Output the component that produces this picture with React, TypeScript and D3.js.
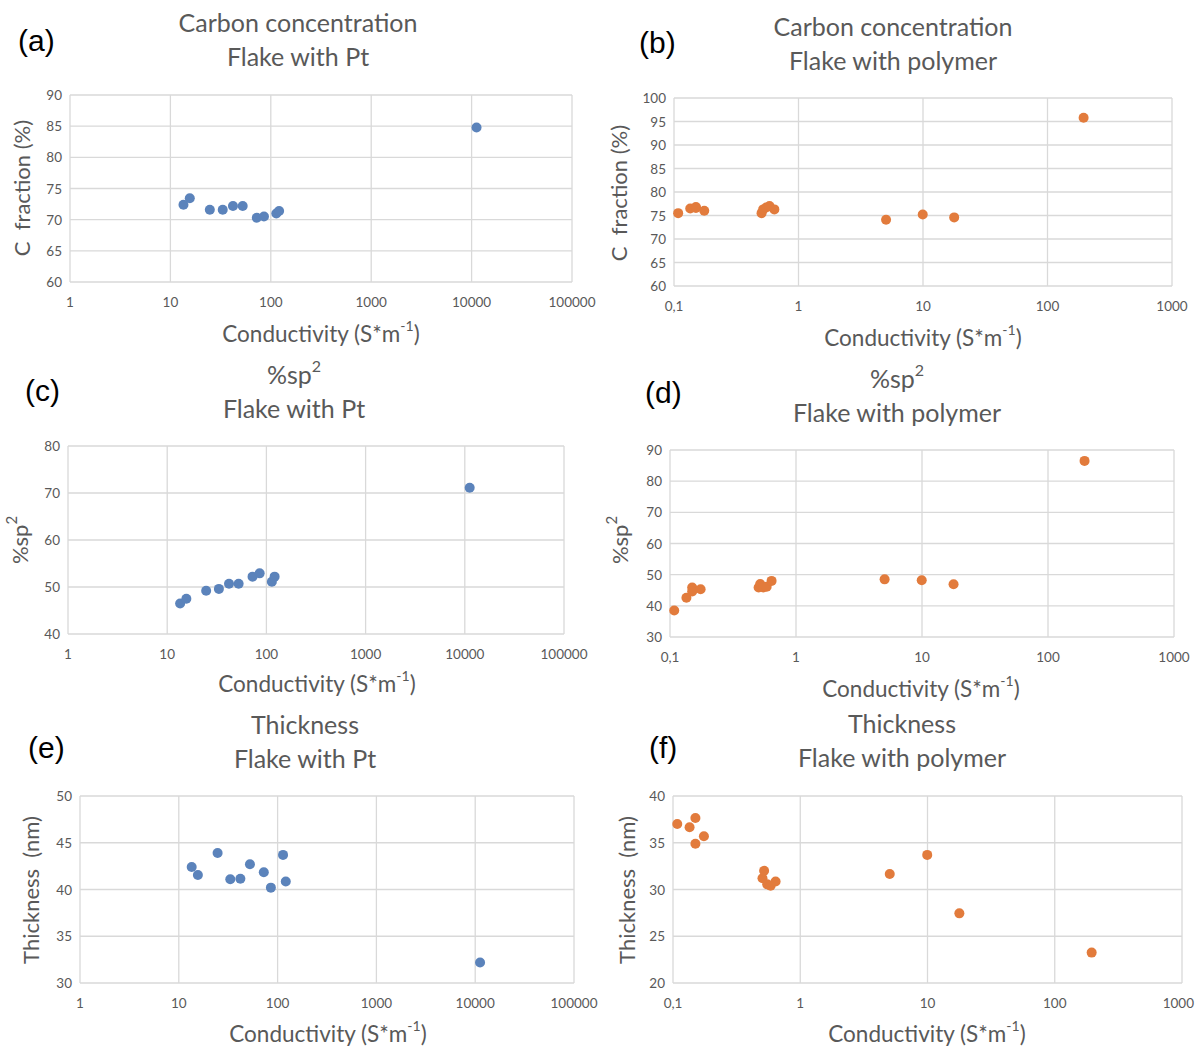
import React, { useEffect, useRef } from 'react';
import * as d3 from 'd3';

// conductivity values (S*m-1)
const ptConductivity = [13.5, 15.6, 24.7, 33.2, 42, 52.5, 72.5, 85.5, 113.5, 121, 11200];
const polyConductivity = [0.108, 0.135, 0.15, 0.15, 0.175, 0.505, 0.52, 0.55, 0.585, 0.64, 5.05, 9.95, 17.8, 195];

// carbon fraction (%)
const ptCarbon = [72.4, 73.45, 71.6, 71.6, 72.2, 72.2, 70.3, 70.5, 71.0, 71.4, 84.8];
const polyCarbon = [75.5, 76.5, 76.8, 76.6, 76.0, 75.5, 76.3, 76.7, 77.0, 76.3, 74.1, 75.2, 74.6, 95.8];

// %sp2
const ptSp2 = [46.5, 47.5, 49.2, 49.6, 50.7, 50.7, 52.2, 52.9, 51.1, 52.2, 71.1];
const polySp2 = [38.5, 42.6, 45.9, 44.6, 45.3, 45.9, 47.0, 45.9, 46.1, 48.0, 48.5, 48.2, 46.9, 86.5];

// thickness (nm)
const ptThickness = [42.4, 41.55, 43.9, 41.1, 41.15, 42.7, 41.85, 40.2, 43.7, 40.85, 32.2];
const polyThickness = [37.0, 36.65, 37.65, 34.9, 35.7, 31.2, 32.0, 30.55, 30.4, 30.85, 31.65, 33.7, 27.45, 23.25];

// tick values
const ptXTicks = [1, 10, 100, 1000, 10000, 100000];
const polyXTicks = [0.1, 1, 10, 100, 1000];
const carbonPtYTicks = [60, 65, 70, 75, 80, 85, 90];
const carbonPolyYTicks = [60, 65, 70, 75, 80, 85, 90, 95, 100];
const sp2PtYTicks = [40, 50, 60, 70, 80];
const sp2PolyYTicks = [30, 40, 50, 60, 70, 80, 90];
const thickPtYTicks = [30, 35, 40, 45, 50];
const thickPolyYTicks = [20, 25, 30, 35, 40];

const BLUE = '#5b83bb';
const ORANGE = '#e27b3c';
const GRID = '#d9d9d9';
const TEXT = '#595959';
const FONT = 'Lato, "Open Sans", sans-serif';
const W = 1196;
const H = 1046;

interface PanelSpec {
    letter: string;
    title1: string;
    sup1?: string;
    title2: string;
    yLabel: string;
    ySup?: string;
    xs: number[];
    ys: number[];
    xTicks: number[];
    yTicks: number[];
    color: string;
    box: [number, number, number, number]; // left, right, top, bottom
    titleX: number;
    titleY: number;
    letterPos: [number, number];
    yLabelPos: [number, number];
    xLabelPos: [number, number];
}

const panels: PanelSpec[] = [
    {
        letter: '(a)', title1: 'Carbon concentration', title2: 'Flake with Pt',
        yLabel: 'C  fraction (%)', xs: ptConductivity, ys: ptCarbon,
        xTicks: ptXTicks, yTicks: carbonPtYTicks, color: BLUE,
        box: [70, 572, 95, 282], titleX: 298, titleY: 22,
        letterPos: [18, 40], yLabelPos: [21, 188], xLabelPos: [321, 333],
    },
    {
        letter: '(b)', title1: 'Carbon concentration', title2: 'Flake with polymer',
        yLabel: 'C  fraction (%)', xs: polyConductivity, ys: polyCarbon,
        xTicks: polyXTicks, yTicks: carbonPolyYTicks, color: ORANGE,
        box: [674, 1172, 98, 286], titleX: 893, titleY: 26,
        letterPos: [639, 42], yLabelPos: [618, 193], xLabelPos: [923, 337],
    },
    {
        letter: '(c)', title1: '%sp', sup1: '2', title2: 'Flake with Pt',
        yLabel: '%sp', ySup: '2', xs: ptConductivity, ys: ptSp2,
        xTicks: ptXTicks, yTicks: sp2PtYTicks, color: BLUE,
        box: [68, 564, 446, 634], titleX: 294, titleY: 374,
        letterPos: [25, 390], yLabelPos: [19, 540], xLabelPos: [317, 683],
    },
    {
        letter: '(d)', title1: '%sp', sup1: '2', title2: 'Flake with polymer',
        yLabel: '%sp', ySup: '2', xs: polyConductivity, ys: polySp2,
        xTicks: polyXTicks, yTicks: sp2PolyYTicks, color: ORANGE,
        box: [670, 1174, 450, 637], titleX: 897, titleY: 378,
        letterPos: [645, 392], yLabelPos: [619, 540], xLabelPos: [921, 688],
    },
    {
        letter: '(e)', title1: 'Thickness', title2: 'Flake with Pt',
        yLabel: 'Thickness  (nm)', xs: ptConductivity, ys: ptThickness,
        xTicks: ptXTicks, yTicks: thickPtYTicks, color: BLUE,
        box: [80, 574, 796, 983], titleX: 305, titleY: 724,
        letterPos: [28, 747], yLabelPos: [30, 890], xLabelPos: [328, 1033],
    },
    {
        letter: '(f)', title1: 'Thickness', title2: 'Flake with polymer',
        yLabel: 'Thickness  (nm)', xs: polyConductivity, ys: polyThickness,
        xTicks: polyXTicks, yTicks: thickPolyYTicks, color: ORANGE,
        box: [673, 1182, 796, 983], titleX: 902, titleY: 723,
        letterPos: [649, 747], yLabelPos: [626, 890], xLabelPos: [927, 1033],
    },
];

const tickText = (v: number) => (v < 1 ? String(v).replace('.', ',') : String(v));

const App: React.FC = () => {
    const svgRef = useRef<SVGSVGElement>(null);

    useEffect(() => {
        if (!svgRef.current) return;
        const svg = d3.select(svgRef.current);
        svg.selectAll('*').remove();

        svg.append('rect').attr('width', W).attr('height', H).attr('fill', '#fff');

        panels.forEach(p => {
            const [left, right, top, bottom] = p.box;
            const g = svg.append('g');

            const x = d3.scaleLog()
                .domain([p.xTicks[0], p.xTicks[p.xTicks.length - 1]])
                .range([left, right]);
            const y = d3.scaleLinear()
                .domain([p.yTicks[0], p.yTicks[p.yTicks.length - 1]])
                .range([bottom, top]);

            // gridlines + tick labels
            p.yTicks.forEach(t => {
                g.append('line')
                    .attr('x1', left).attr('x2', right)
                    .attr('y1', y(t)).attr('y2', y(t))
                    .attr('stroke', GRID).attr('stroke-width', 1.3);
                g.append('text')
                    .attr('x', left - 8).attr('y', y(t))
                    .attr('text-anchor', 'end').attr('dominant-baseline', 'central')
                    .attr('font-family', FONT).attr('font-size', 13.5).attr('fill', TEXT)
                    .text(t);
            });
            p.xTicks.forEach(t => {
                g.append('line')
                    .attr('x1', x(t)).attr('x2', x(t))
                    .attr('y1', top).attr('y2', bottom)
                    .attr('stroke', GRID).attr('stroke-width', 1.3);
                // keep the label inside the picture when it sits at the right edge
                const label = tickText(t);
                const halfW = label.length * 3.9;
                const atEdge = x(t) + halfW > W - 2;
                g.append('text')
                    .attr('x', atEdge ? W - 2 : x(t)).attr('y', bottom + 20)
                    .attr('text-anchor', atEdge ? 'end' : 'middle')
                    .attr('dominant-baseline', 'central')
                    .attr('font-family', FONT).attr('font-size', 13.5).attr('fill', TEXT)
                    .text(label);
            });

            // points
            g.selectAll('circle.pt')
                .data(p.xs.map((v, i) => [v, p.ys[i]]))
                .enter()
                .append('circle')
                .attr('cx', d => x(d[0]))
                .attr('cy', d => y(d[1]))
                .attr('r', 5)
                .attr('fill', p.color);

            // titles
            const t1 = g.append('text')
                .attr('x', p.titleX).attr('y', p.titleY)
                .attr('text-anchor', 'middle').attr('dominant-baseline', 'central')
                .attr('font-family', FONT).attr('font-size', 25).attr('fill', TEXT)
                .text(p.title1);
            if (p.sup1) {
                t1.append('tspan').attr('dy', -9).attr('font-size', 16).text(p.sup1);
            }
            g.append('text')
                .attr('x', p.titleX).attr('y', p.titleY + 34)
                .attr('text-anchor', 'middle').attr('dominant-baseline', 'central')
                .attr('font-family', FONT).attr('font-size', 25).attr('fill', TEXT)
                .text(p.title2);

            // panel letter
            g.append('text')
                .attr('x', p.letterPos[0]).attr('y', p.letterPos[1])
                .attr('dominant-baseline', 'central')
                .attr('font-family', '"Liberation Sans", Arial, sans-serif')
                .attr('font-size', 30).attr('fill', '#000')
                .text(p.letter);

            // y label
            const yl = g.append('text')
                .attr('transform', `translate(${p.yLabelPos[0]},${p.yLabelPos[1]}) rotate(-90)`)
                .attr('text-anchor', 'middle').attr('dominant-baseline', 'central')
                .attr('font-family', FONT).attr('font-size', 22).attr('fill', TEXT)
                .style('white-space', 'pre')
                .text(p.yLabel);
            if (p.ySup) {
                yl.append('tspan').attr('dy', -8).attr('font-size', 15).text(p.ySup);
            }

            // x label
            const xl = g.append('text')
                .attr('x', p.xLabelPos[0]).attr('y', p.xLabelPos[1])
                .attr('text-anchor', 'middle').attr('dominant-baseline', 'central')
                .attr('font-family', FONT).attr('font-size', 22.5).attr('fill', TEXT)
                .text('Conductivity (S*m');
            xl.append('tspan').attr('dy', -8).attr('font-size', 14).text('-1');
            xl.append('tspan').attr('dy', 8).text(')');
        });
    }, []);

    return (
        <svg ref={svgRef} width={W} height={H}
            style={{ position: 'absolute', left: 0, top: 0 }} />
    );
};

export default App;
